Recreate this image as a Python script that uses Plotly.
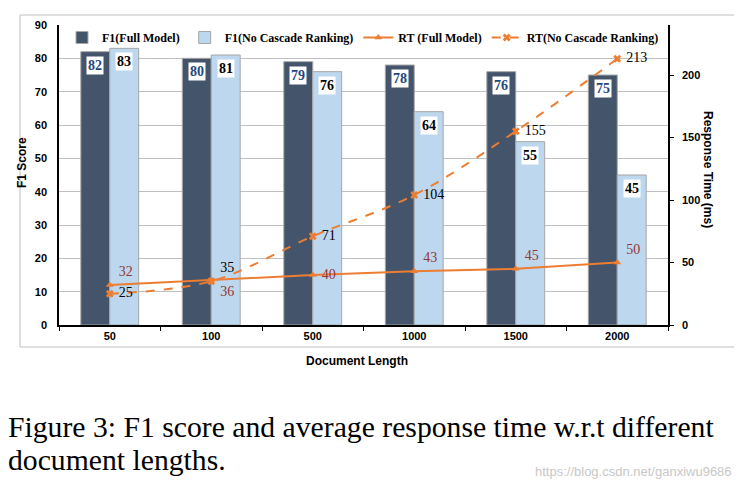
import plotly.graph_objects as go

categories = ["50", "100", "500", "1000", "1500", "2000"]
f1_full = [82, 80, 79, 78, 76, 75]
f1_nocascade = [83, 81, 76, 64, 55, 45]
rt_full = [32, 36, 40, 43, 45, 50]
rt_nocascade = [25, 35, 71, 104, 155, 213]
left_ticks = [0, 10, 20, 30, 40, 50, 60, 70, 80, 90]
right_ticks = [0, 50, 100, 150, 200]

DARK = "#44546A"
LIGHT = "#BDD7EE"
ORANGE = "#ED7D31"
SERIF = "Liberation Serif"
SANS = "Liberation Sans"

fig = go.Figure()
fig.add_trace(go.Bar(x=categories, y=f1_full, name="F1(Full Model)",
                     marker=dict(color=DARK, line=dict(color="#A6A6A6", width=1))))
fig.add_trace(go.Bar(x=categories, y=f1_nocascade, name="F1(No Cascade Ranking)",
                     marker=dict(color=LIGHT, line=dict(color="#A6A6A6", width=1))))

fig.add_trace(go.Scatter(
    x=categories, y=rt_full, name="RT (Full Model)", yaxis="y2",
    mode="lines+markers+text",
    line=dict(color=ORANGE, width=2),
    marker=dict(symbol="triangle-up", size=7, color=ORANGE),
    text=[" " + str(v) for v in rt_full],
    textposition=["top right", "bottom right", "middle right", "top right", "top right", "top right"],
    textfont=dict(family=SERIF, size=14, color="#943634"),
))
fig.add_trace(go.Scatter(
    x=categories, y=rt_nocascade, name="RT(No Cascade Ranking)", yaxis="y2",
    mode="lines+markers+text",
    line=dict(color=ORANGE, width=2, dash="dash", shape="spline"),
    marker=dict(symbol="x", size=7, color=ORANGE),
    text=[" " + str(v) for v in rt_nocascade],
    textposition=["middle right", "top right", "middle right", "middle right", "middle right", "middle right"],
    textfont=dict(family=SERIF, size=14, color="#000000"),
))

annotations = []
for i, v in enumerate(f1_full):
    annotations.append(dict(x=i, y=v, xref="x", yref="y", text=f"<b>{v}</b>", showarrow=False,
                            xshift=-14.5, yshift=-4, yanchor="top", bgcolor="white", borderpad=1,
                            font=dict(family=SERIF, size=14, color="#1F497D")))
for i, v in enumerate(f1_nocascade):
    annotations.append(dict(x=i, y=v, xref="x", yref="y", text=f"<b>{v}</b>", showarrow=False,
                            xshift=14.5, yshift=-4, yanchor="top", bgcolor="white", borderpad=1,
                            font=dict(family=SERIF, size=14, color="#000000")))


# pixel (in the 742x492 screenshot) -> paper coords; the page body adds an 8px offset
def px_x(p):
    return (p - 59) / 609


def px_y(p):
    return (325 - p) / 300


annotations += [
    dict(x=px_x(22), y=px_y(163), xref="paper", yref="paper", xanchor="center", yanchor="middle",
         text="<b>F1 Score</b>", textangle=-90,
         showarrow=False, font=dict(family=SANS, size=12, color="black")),
    dict(x=px_x(708), y=px_y(169), xref="paper", yref="paper", xanchor="center", yanchor="middle",
         text="<b>Response Time (ms)</b>", textangle=90,
         showarrow=False, font=dict(family=SANS, size=12, color="black")),
    dict(x=px_x(357), y=px_y(361), xref="paper", yref="paper", xanchor="center", yanchor="middle",
         text="<b>Document Length</b>",
         showarrow=False, font=dict(family=SANS, size=12, color="black")),
    dict(x=px_x(6), y=px_y(427), xref="paper", yref="paper", xanchor="left", yanchor="middle",
         text="Figure 3: F1 score and average response time w.r.t different", showarrow=False,
         font=dict(family=SERIF, size=29.7, color="black")),
    dict(x=px_x(6), y=px_y(460), xref="paper", yref="paper", xanchor="left", yanchor="middle",
         text="document lengths.", showarrow=False,
         font=dict(family=SERIF, size=29.7, color="black")),
    dict(x=px_x(734), y=px_y(471), xref="paper", yref="paper", xanchor="right", yanchor="middle",
         text="https://blog.csdn.net/ganxiwu9686", showarrow=False,
         font=dict(family=SANS, size=13, color="#C8C8C8")),
]

fig.update_layout(
    width=734, height=484,
    margin=dict(l=51, r=74, t=17, b=167),
    paper_bgcolor="white", plot_bgcolor="white",
    barmode="group", bargap=0.43, bargroupgap=0,
    showlegend=True,
    legend=dict(orientation="h", x=px_x(62), y=px_y(23), xanchor="left", yanchor="top",
                bgcolor="rgba(0,0,0,0)", font=dict(family=SERIF, size=12, color="black", weight="bold"),
                itemwidth=30, tracegroupgap=0),
    xaxis=dict(type="category", range=[-0.5, 5.5], showline=True, linecolor="black", linewidth=1.5,
               ticks="outside", tickson="boundaries", ticklen=4, tickcolor="black",
               tickfont=dict(family=SANS, size=11, color="black", weight="bold"),
               showgrid=False),
    yaxis=dict(range=[0, 90], tickvals=left_ticks, showline=True, linecolor="black", linewidth=1.5,
               gridcolor="#BFBFBF", gridwidth=1, ticks="", ticklabelstandoff=8,
               tickfont=dict(family=SANS, size=11, color="black", weight="bold"), zeroline=False),
    yaxis2=dict(range=[0, 240], tickvals=right_ticks, overlaying="y", side="right",
                showline=True, linecolor="black", linewidth=1.5, showgrid=False, zeroline=False,
                ticks="outside", ticklen=4, tickcolor="black", ticklabelstandoff=6,
                tickfont=dict(family=SANS, size=11, color="black", weight="bold")),
    annotations=annotations,
    shapes=[dict(type="rect", xref="paper", yref="paper",
                 x0=px_x(20), x1=px_x(760), y0=px_y(347), y1=px_y(15),
                 line=dict(color="#BFBFBF", width=1), layer="below")],
)

fig.write_html("out.html")
